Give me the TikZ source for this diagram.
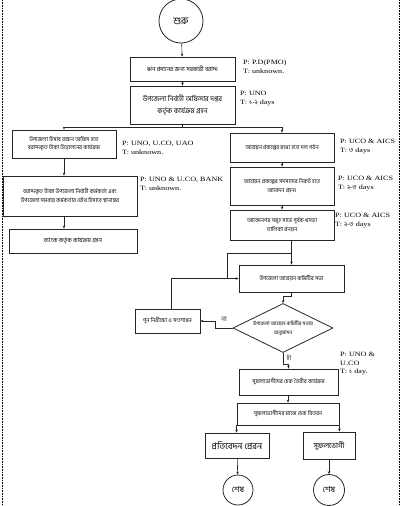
\documentclass[tikz,border=0pt]{standalone}
\usepackage{fontspec}
\newfontfamily\bnfont[Script=Bengali]{Hind Siliguri}
\newfontfamily\latfont[FakeStretch=1.25]{Liberation Serif}
\usetikzlibrary{positioning,arrows.meta,shapes.geometric}
\newcommand{\bn}[1]{{\bnfont #1}}

\begin{document}
\begin{tikzpicture}[x=1pt, y=-1pt,
    font=\bnfont\fontsize{5.6}{8}\selectfont,
    size/.style={font=\bnfont\fontsize{#1}{8}\selectfont},
    box/.style={draw=black!85, line width=0.8pt, inner sep=1pt, align=center},
    term/.style={draw=black!85, circle, line width=0.8pt, inner sep=0pt},
    decide/.style={draw=black!85, diamond, aspect=2, line width=0.8pt,
                   inner sep=0pt, align=center},
    lbl/.style={font=\latfont\fontsize{6.5}{8.5}\selectfont, align=left,
                anchor=north west, inner sep=0pt},
    flow/.style={-{Stealth[length=3pt, width=2.6pt]}, line width=0.6pt, color=black!85},
    link/.style={line width=0.6pt, color=black!85}]
  \useasboundingbox (0,0) rectangle (400,506);
  \draw[densely dotted, line width=0.6pt] (2,0) -- (2,506);
  \draw[densely dotted, line width=0.6pt] (399,0) -- (399,506);

  % main spine
  \node[term, size=10, minimum size=44] (start) at (181,21) {শুরু};
  \node[box, size=6, minimum width=105, minimum height=24] (grant) at (182.5,69)
    {ঋন প্রদানের জন্য সরকারী বরাদ্দ};
  \node[box, size=7, minimum width=105, minimum height=38] (uno) at (182.5,105)
    {উপজেলা নির্বাহী অফিসার দপ্তর\\[4pt]কর্তৃক কার্যক্রম গ্রহন};
  \coordinate (fork) at (182.5,127);

  % left column
  \node[box, size=5.6, minimum width=104, minimum height=28] (withdraw) at (64,144)
    {উপজেলা হিসাব রক্ষন অফিস হতে\\বরাদ্দকৃত টাকা উত্তোলনের কার্যক্রম};
  \node[box, size=5.6, minimum width=134, minimum height=40] (transfer) at (70,196)
    {বরাদ্দকৃত টাকা উপজেলা নির্বাহী কর্মকর্তা এবং\\[1pt]উপজেলা সমবায় কর্মকর্তার যৌথ হিসাবে স্থানান্তর};
  \node[box, size=6, minimum width=128, minimum height=24] (bank) at (73,241)
    {ব্যাংক কর্তৃক কার্যক্রম গ্রহন};

  % right column
  \node[box, minimum width=104, minimum height=29] (group) at (282,147.5)
    {আশ্রয়ন প্রকল্পের মধ্যে হতে দল গঠন};
  \node[box, size=5.6, minimum width=104, minimum height=38] (apply) at (282,186)
    {আশ্রয়ন প্রকল্পের সদস্যদের নিকট হতে\\[1pt]আবেদন গ্রহন।};
  \node[box, size=5.6, minimum width=104, minimum height=30] (survey) at (282,225)
    {আবেদনপত্র সমূহ সার্ভে পূর্বক খসড়া\\[1pt]তালিকা প্রনয়ন};
  \node[box, minimum width=105, minimum height=27] (meeting) at (291.5,278.5)
    {উপজেলা আশ্রয়ন কমিটির সভা};
  \node[decide, size=5, minimum width=100, minimum height=49] (approve) at (283,328)
    {উপজেলা আশ্রয়ন কমিটির সভায়\\[1pt]অনুমোদন};
  \node[box, minimum width=65, minimum height=24] (recheck) at (167.5,321)
    {পুন নিরীক্ষা ও সংশোধন};
  \node[box, minimum width=99, minimum height=26] (cheque) at (288.5,382)
    {সুফলভোগীদের চেক তৈরীর কার্যক্রম};
  \node[box, minimum width=102, minimum height=22] (handout) at (288,414)
    {সুফলভোগীদের মাঝে চেক বিতরন};
  \node[box, size=9, minimum width=64, minimum height=25] (report) at (237,445.5)
    {প্রতিবেদন প্রেরন};
  \node[box, size=7.5, minimum width=52, minimum height=27] (benef) at (329,445.5)
    {সুফলভোগী};
  \node[term, size=8, minimum size=30] (endA) at (238,490) {শেষ};
  \node[term, size=8, minimum size=31] (endB) at (329,490) {শেষ};

  % who and how long
  \node[lbl] at (243,60) {P: P.D(PMO)\\T: unknown.};
  \node[lbl] at (240,91) {P: UNO\\T: \bn{১-২} days};
  \node[lbl] at (122,141) {P: UNO, U.CO, UAO\\T: unknown.};
  \node[lbl] at (140,177) {P: UNO \& U.CO, BANK\\T: unknown.};
  \node[lbl] at (340,139) {P: UCO \& AICS\\T: \bn{৩} days};
  \node[lbl] at (338,176) {P: UCO \& AICS\\T: \bn{২-৩} days};
  \node[lbl] at (335,213) {P: UCO \& AICS\\T: \bn{২-৩} days};
  \node[lbl] at (340,352) {P: UNO \&\\U.CO\\T: \bn{১} day.};

  % connectors
  \draw[flow] (start) -- (grant);
  \draw[flow] (grant) -- (uno);
  \draw[link] (uno.south) -- (fork);
  \draw[flow] (fork) -| (withdraw.north);
  \draw[flow] (fork) -| (group.north);
  \draw[flow] (withdraw.south) -- (withdraw.south |- transfer.north);
  \draw[flow] (transfer.south -| withdraw.south) -- (withdraw.south |- bank.north);
  \draw[flow] (group) -- (apply);
  \draw[flow] (apply) -- (survey);
  \draw[flow] (meeting.north |- survey.south) -- (meeting.north);
  \draw[link] (227,278.5) |- (meeting.north |- 0,253);
  \draw[flow] (meeting.south) -- ++(0,4) -| (approve.north);
  \draw[flow] (approve.west) -- node[above=3pt, size=6.5] {না} ++(-17,0) |- (recheck.east);
  \draw[flow] ([xshift=3.5pt]recheck.north) |- (meeting.west);
  \draw[flow] (approve.south) -- ++(0,11) node[right=0pt, pos=0.4, size=6.5] {হাঁ} -| (cheque.north);
  \draw[flow] (cheque.south -| handout.north) -- (handout.north);
  \draw[flow] (handout.south west) -- (handout.south west |- report.north);
  \draw[flow] (handout.south east) -- (handout.south east |- benef.north);
  \draw[flow] (report) -- (endA);
  \draw[flow] (benef) -- (endB);
\end{tikzpicture}
\end{document}
